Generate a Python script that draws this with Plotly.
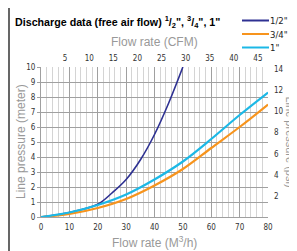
import plotly.graph_objects as go

# Data (flow in m3/h, pressure in meter)
flow_half = [0, 10, 20, 25, 30, 35, 40, 45, 50]
press_half = [0, 0.3, 0.85, 1.6, 2.5, 3.8, 5.5, 7.6, 10.0]

flow_34 = [0, 10, 20, 30, 40, 50, 60, 70, 80]
press_34 = [0, 0.2, 0.6, 1.2, 2.1, 3.2, 4.6, 6.0, 7.5]

flow_1 = [0, 10, 20, 30, 40, 50, 60, 70, 80]
press_1 = [0, 0.3, 0.8, 1.5, 2.5, 3.7, 5.2, 6.8, 8.3]

series_names = ['1/2"', '3/4"', '1"']
colors = ["#2e3192", "#f7941d", "#1cb8e6"]

cfm_ticks = [5, 10, 15, 20, 25, 30, 35, 40, 45]
psi_ticks = [2, 4, 6, 8, 10, 12, 14]
M3H_PER_CFM = 1.699
PSI_PER_M = 1.422

# the page body adds an 8px offset; figure is sized so it fills the window
OFF = 8
W, H = 297 - OFF, 251 - OFF

tick_font = dict(family="DejaVu Sans Condensed, DejaVu Sans, sans-serif", size=8, color="#333")
gray = "#999999"

fig = go.Figure()
for fx, py, name, col, w in [(flow_half, press_half, series_names[0], colors[0], 1.6),
                              (flow_34, press_34, series_names[1], colors[1], 2.2),
                              (flow_1, press_1, series_names[2], colors[2], 2.2)]:
    fig.add_trace(go.Scatter(x=fx, y=py, mode="lines", name=name, showlegend=False,
                             line=dict(color=col, width=w, shape="spline", smoothing=1.0)))

# invisible traces to activate secondary axes
fig.add_trace(go.Scatter(x=[0, 80 / M3H_PER_CFM], y=[0, 0], xaxis="x2", mode="lines",
                         line=dict(width=0), showlegend=False, hoverinfo="skip"))
fig.add_trace(go.Scatter(x=[0, 0], y=[0, 10 * PSI_PER_M], yaxis="y2", mode="lines",
                         line=dict(width=0), showlegend=False, hoverinfo="skip"))

fig.update_layout(
    width=W, height=H,
    margin=dict(l=41 - OFF, r=297 - 268, t=67 - OFF, b=251 - 217, autoexpand=False),
    paper_bgcolor="white", plot_bgcolor="white",
    font=dict(family="Liberation Sans, Arial, sans-serif"),
    showlegend=False,
    xaxis=dict(range=[0, 80], dtick=10, tick0=0, showgrid=True, gridcolor="#a0a0a0", gridwidth=1,
               minor=dict(dtick=2, showgrid=True, gridcolor="#d4d4d4", gridwidth=1),
               showline=True, linecolor="#a0a0a0", zeroline=False, ticks="", tickfont=tick_font,
               ticklabelstandoff=2, automargin=False),
    yaxis=dict(range=[0, 10], dtick=1, tick0=0, showgrid=True, gridcolor="#a0a0a0", gridwidth=1,
               showline=True, linecolor="#a0a0a0", zeroline=False, ticks="outside", ticklen=3,
               tickcolor="#a0a0a0", tickfont=tick_font, automargin=False),
    xaxis2=dict(range=[0, 80 / M3H_PER_CFM], overlaying="x", side="top", tickvals=cfm_ticks,
                showgrid=False, zeroline=False, showline=False, tickfont=tick_font, ticks="",
                ticklabelstandoff=3, automargin=False),
    yaxis2=dict(range=[0, 10 * PSI_PER_M], overlaying="y", side="right", tickvals=psi_ticks,
                showgrid=False, zeroline=False, showline=False, tickfont=tick_font, ticks="",
                ticklabelstandoff=5, automargin=False),
)

fig.update_layout(title=dict(
    text='Discharge data (free air flow) <sup>1</sup>/<sub>2</sub>", <sup>3</sup>/<sub>4</sub>", 1"',
    x=(15 - OFF) / W, xanchor="left", y=1 - (22 - OFF) / H, yanchor="middle",
    font=dict(family="Liberation Sans, Arial, sans-serif", size=10.7, color="#000", weight="bold")))

ann_font = dict(family="Liberation Sans, Arial, sans-serif", size=12, color=gray)
fig.add_annotation(text="Flow rate (CFM)", xref="paper", yref="paper", x=0.5, y=(217 - 42) / 150,
                   showarrow=False, font=ann_font, xanchor="center", yanchor="middle")
fig.add_annotation(text="Flow rate (M<sup>3</sup>/h)", xref="paper", yref="paper", x=0.5, y=(217 - 242) / 150,
                   showarrow=False, font=ann_font, xanchor="center", yanchor="middle")
fig.add_annotation(text="Line pressure (meter)", xref="paper", yref="paper", x=(21 - 41) / 227, y=0.5,
                   showarrow=False, font=ann_font, textangle=-90, xanchor="center", yanchor="middle")
fig.add_annotation(text="Line pressure (psi)", xref="paper", yref="paper", x=(289.5 - 41) / 227, y=0.5,
                   showarrow=False, font=dict(family="Liberation Sans, Arial, sans-serif", size=11, color=gray),
                   textangle=90, xanchor="center", yanchor="middle")

# legend (drawn manually)
leg_font = dict(family="DejaVu Sans Condensed, DejaVu Sans, sans-serif", size=9.5, color="#222")
for i, (name, col) in enumerate(zip(series_names, colors)):
    ypx = 20.5 + i * 13.5
    yp = (217 - ypx) / 150
    fig.add_shape(type="line", xref="paper", yref="paper", x0=(242 - 41) / 227, x1=(269 - 41) / 227,
                  y0=yp, y1=yp, line=dict(color=col, width=2))
    fig.add_annotation(text=name, xref="paper", yref="paper", x=(268 - 41) / 227, y=yp,
                       showarrow=False, font=leg_font, xanchor="left", yanchor="middle")

# frame lines (top and left border)
fig.add_shape(type="line", xref="paper", yref="paper", x0=(9 - 41) / 227, x1=(300 - 41) / 227,
              y0=(217 - 7) / 150, y1=(217 - 7) / 150, line=dict(color="black", width=1.2))
fig.add_shape(type="line", xref="paper", yref="paper", x0=(9 - 41) / 227, x1=(9 - 41) / 227,
              y0=(217 - 7) / 150, y1=(217 - 260) / 150, line=dict(color="black", width=1.2))

fig.write_html("out.html")
